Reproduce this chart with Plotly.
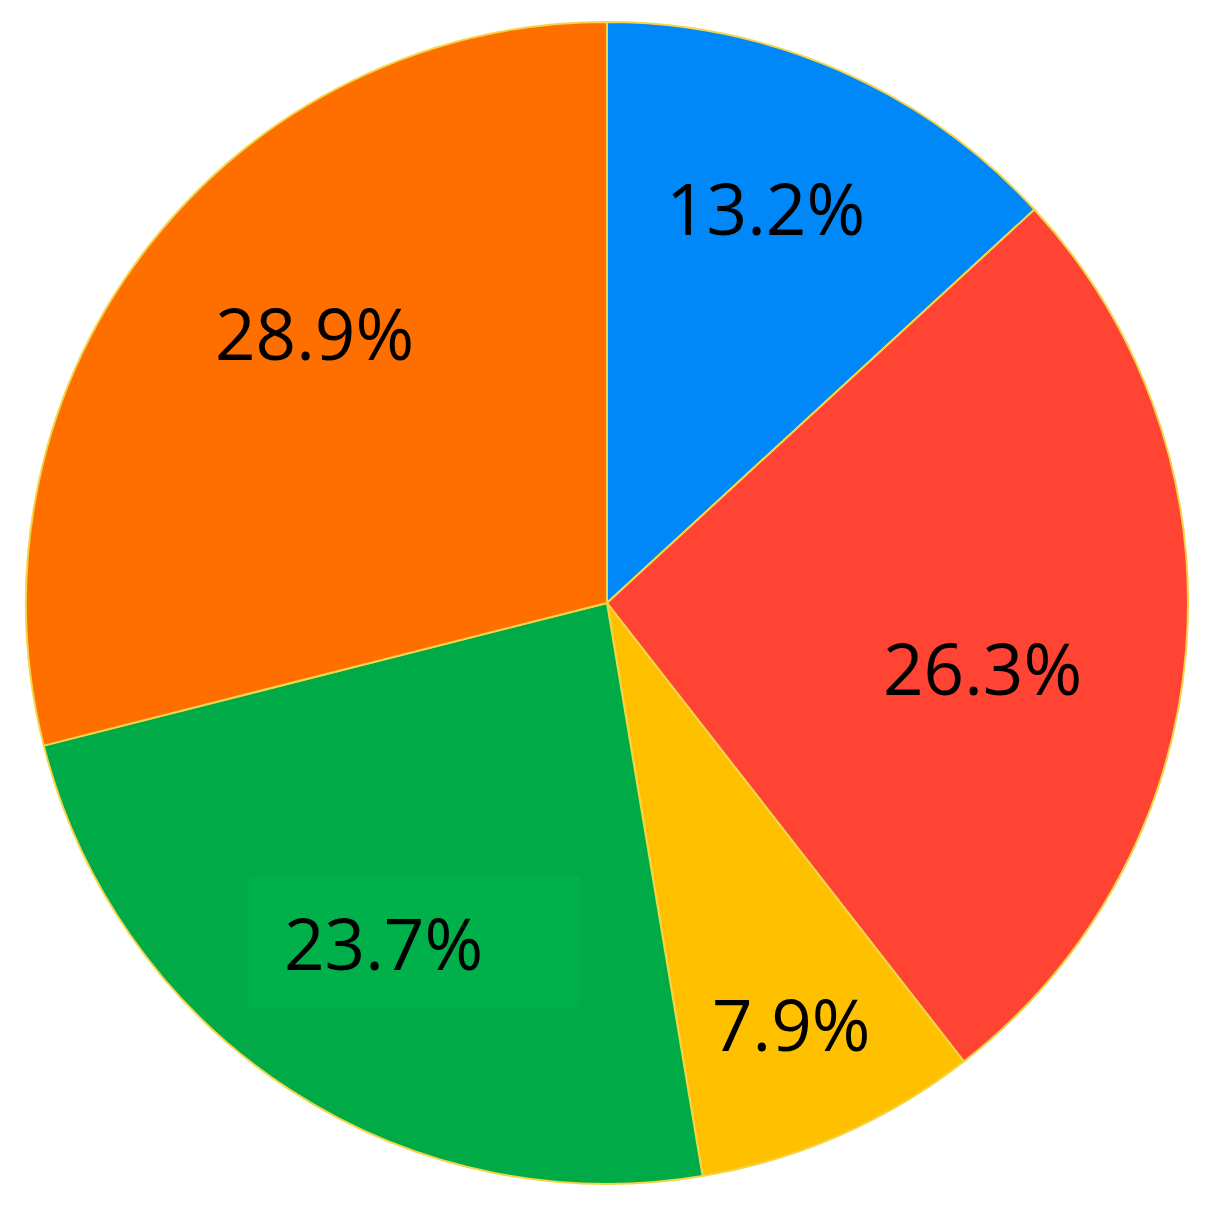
import math
import plotly.graph_objects as go

# slice data, clockwise from 12 o'clock
labels = ["A", "B", "C", "D", "E"]
values = [5, 10, 3, 9, 11]
colors = ["#0088F8", "#FF4433", "#FFC000", "#00AA46", "#FF6F00"]

# label placement: fraction of radius, and nudge (degrees) from the slice mid-angle
label_r = [0.733, 0.656, 0.79, 0.70, 0.685]
label_nudge = [-1.9, 5.0, 0.0, 0.5, 4.9]

W, H = 1229, 1205
# page body has an 8px margin, so pie centre is given in figure coords
cx, cy, r = 599, 595, 581

fig = go.Figure()
fig.add_trace(go.Pie(
    labels=labels,
    values=values,
    sort=False,
    direction="clockwise",
    rotation=0,
    marker=dict(colors=colors, line=dict(color="#F2D54A", width=2)),
    textinfo="none",
    showlegend=False,
    hoverinfo="label+percent",
    domain=dict(
        x=[(cx - r) / W, (cx + r) / W],
        y=[1 - (cy + r) / H, 1 - (cy - r) / H],
    ),
))

# percentage labels near each slice's mid-angle
total = sum(values)
start = 0.0
for i, v in enumerate(values):
    frac = v / total
    mid = (start + frac / 2) * 2 * math.pi + math.radians(label_nudge[i])
    start += frac
    px_ = cx + label_r[i] * r * math.sin(mid)
    py_ = cy - label_r[i] * r * math.cos(mid)
    boxed = i == 3  # the green label sits in a slightly lighter text box
    fig.add_annotation(
        x=px_ / W, y=1 - py_ / H, xref="paper", yref="paper",
        xanchor="center", yanchor="middle",
        text=f"{frac * 100:.1f}%",
        showarrow=False,
        font=dict(family="Open Sans", size=71, color="black"),
        align="left",
        bgcolor="#00B14B" if boxed else "rgba(0,0,0,0)",
        width=260 if boxed else None,
        height=60 if boxed else None,
        borderpad=35 if boxed else 0,
        xshift=32 if boxed else 0,
    )

fig.update_layout(
    width=W,
    height=H,
    margin=dict(l=0, r=0, t=0, b=0),
    paper_bgcolor="white",
    plot_bgcolor="white",
)

fig.write_html("out.html")
